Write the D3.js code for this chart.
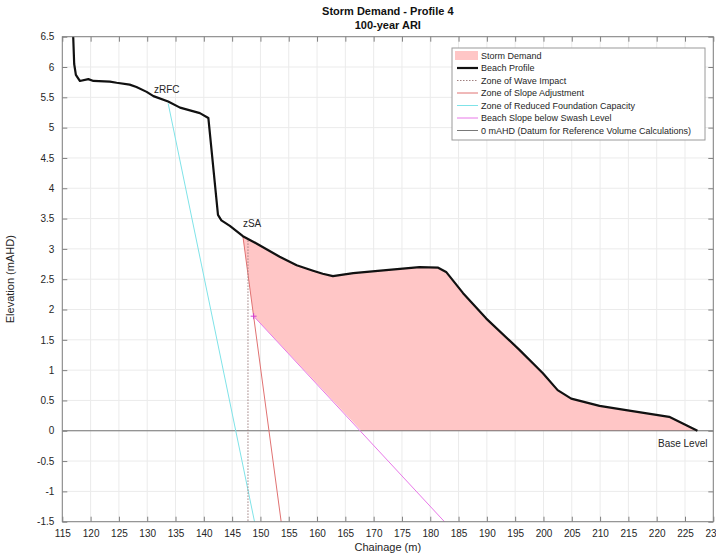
<!DOCTYPE html>
<html>
<head>
<meta charset="utf-8">
<script src="https://cdn.jsdelivr.net/npm/d3@7"></script>
<style>
  body { margin: 0; background: #fff; }
  svg { font-family: "Liberation Sans", Arial, sans-serif; }
</style>
</head>
<body>
<svg id="chart" width="716" height="556"></svg>
<script>
// beach profile (chainage m, elevation mAHD)
var profileChainage = [116.85, 117.1, 117.4, 118.1, 119.6, 120.5, 123.4, 124.6, 126.9, 128.1, 129.9, 131.1, 133.7, 135.8, 139.3, 140.8,
  142.5, 143.1, 144.6, 146.9, 149.3, 153.4, 156.4, 159.3, 161.0, 162.8, 166.4, 172.2, 178.1, 181.4, 182.8, 185.8, 189.9,
  195.8, 199.9, 202.5, 204.9, 209.9, 214.6, 222.2, 227.2];
var profileElevation = [6.7, 6.05, 5.87, 5.77, 5.80, 5.77, 5.76, 5.74, 5.71, 5.67, 5.59, 5.52, 5.43, 5.33, 5.24, 5.16,
  3.56, 3.47, 3.38, 3.21, 3.09, 2.87, 2.73, 2.64, 2.59, 2.55, 2.60, 2.65, 2.70, 2.69, 2.62, 2.27, 1.85,
  1.33, 0.95, 0.67, 0.53, 0.41, 0.34, 0.23, 0.0];

// key points
var zSA = [146.9, 3.21];
var zRFC = [133.7, 5.40];
var swashTop = [148.8, 1.89];
var swashAtDatum = [167.8, 0];
var baseLevel = [227.2, 0];

// zone lines
var waveImpactChainage = [147.8, 147.8];
var waveImpactElevation = [3.14, -1.5];
var slopeAdjChainage = [146.9, 153.95];
var slopeAdjElevation = [3.21, -1.7];
var rfcChainage = [133.7, 149.4];
var rfcElevation = [5.40, -1.7];
var swashChainage = [148.8, 184.5];
var swashElevation = [1.89, -1.7];

var xTicks = d3.range(115, 231, 5);
var yTicks = d3.range(-1.5, 6.51, 0.5);

var legendLabels = ["Storm Demand", "Beach Profile", "Zone of Wave Impact", "Zone of Slope Adjustment",
  "Zone of Reduced Foundation Capacity", "Beach Slope below Swash Level", "0 mAHD (Datum for Reference Volume Calculations)"];

var svg = d3.select("#chart");
var pL = 62.3, pR = 713.3, pT = 36.7, pB = 521.7;

var x = d3.scaleLinear().domain([115, 230]).range([pL, pR]);
var y = d3.scaleLinear().domain([-1.5, 6.5]).range([pB, pT]);

svg.append("defs").append("clipPath").attr("id", "plotclip")
  .append("rect").attr("x", pL).attr("y", pT).attr("width", pR - pL).attr("height", pB - pT);

// grid
var grid = svg.append("g").attr("stroke", "#ebebeb").attr("stroke-width", 1);
grid.selectAll(".gx").data(xTicks).enter().append("line")
  .attr("x1", function(d) { return x(d); }).attr("x2", function(d) { return x(d); })
  .attr("y1", pT).attr("y2", pB);
grid.selectAll(".gy").data(yTicks).enter().append("line")
  .attr("y1", function(d) { return y(d); }).attr("y2", function(d) { return y(d); })
  .attr("x1", pL).attr("x2", pR);

var plot = svg.append("g").attr("clip-path", "url(#plotclip)");

var pts = function(cs, es) { return cs.map(function(c, i) { return [c, es[i]]; }); };
var line = d3.line().x(function(d) { return x(d[0]); }).y(function(d) { return y(d[1]); });

var profile = pts(profileChainage, profileElevation);

// storm demand area
var storm = [zSA].concat(profile.filter(function(p) { return p[0] > zSA[0]; }))
  .concat([baseLevel, swashAtDatum, swashTop]);
plot.append("path").datum(storm)
  .attr("d", function(d) { return line(d) + "Z"; })
  .attr("fill", "#ffc6c6").attr("stroke", "none");

// datum
plot.append("line").attr("x1", x(115)).attr("x2", x(230)).attr("y1", y(0)).attr("y2", y(0))
  .attr("stroke", "#555").attr("stroke-width", 0.8);

plot.append("path").datum(pts(rfcChainage, rfcElevation)).attr("d", line)
  .attr("fill", "none").attr("stroke", "#7fe3e8").attr("stroke-width", 1);
plot.append("path").datum(pts(slopeAdjChainage, slopeAdjElevation)).attr("d", line)
  .attr("fill", "none").attr("stroke", "#e07272").attr("stroke-width", 1);
plot.append("path").datum(pts(swashChainage, swashElevation)).attr("d", line)
  .attr("fill", "none").attr("stroke", "#e878e8").attr("stroke-width", 1);
plot.append("path").datum(pts(waveImpactChainage, waveImpactElevation)).attr("d", line)
  .attr("fill", "none").attr("stroke", "#a08080").attr("stroke-width", 1).attr("stroke-dasharray", "1.5,1.5");

// swash marker
plot.append("path")
  .attr("d", "M-3,0H3M0,-3V3")
  .attr("transform", "translate(" + x(swashTop[0]) + "," + y(swashTop[1]) + ")")
  .attr("stroke", "#d040d0").attr("stroke-width", 1);

plot.append("path").datum(profile).attr("d", line)
  .attr("fill", "none").attr("stroke", "#111").attr("stroke-width", 2.2).attr("stroke-linejoin", "round");

// point labels
var lab = svg.append("g").attr("font-size", "10px").attr("fill", "#262626");
lab.append("text").attr("x", x(131.2)).attr("y", y(5.57)).text("zRFC");
lab.append("text").attr("x", x(146.9)).attr("y", y(3.36)).text("zSA");
lab.append("text").attr("x", x(224.6)).attr("y", y(-0.27)).attr("text-anchor", "middle").text("Base Level");

// axes frame with inward ticks
var axisColor = "#262626";
svg.append("rect").attr("x", pL).attr("y", pT).attr("width", pR - pL).attr("height", pB - pT)
  .attr("fill", "none").attr("stroke", "#808080").attr("stroke-width", 1);

var xb = svg.append("g").attr("transform", "translate(0," + pB + ")")
  .call(d3.axisBottom(x).tickValues(xTicks).tickSizeInner(-5).tickSizeOuter(0).tickPadding(8).tickFormat(function(d) { return String(d); }));
var xt = svg.append("g").attr("transform", "translate(0," + pT + ")")
  .call(d3.axisTop(x).tickValues(xTicks).tickSizeInner(-5).tickSizeOuter(0).tickFormat(""));
var yl = svg.append("g").attr("transform", "translate(" + pL + ",0)")
  .call(d3.axisLeft(y).tickValues(yTicks).tickSizeInner(-5).tickSizeOuter(0).tickPadding(8).tickFormat(function(d) { return String(d); }));
var yr = svg.append("g").attr("transform", "translate(" + pR + ",0)")
  .call(d3.axisRight(y).tickValues(yTicks).tickSizeInner(-5).tickSizeOuter(0).tickFormat(""));
[xb, xt, yl, yr].forEach(function(g) {
  g.select(".domain").remove();
  g.selectAll(".tick line").attr("stroke", "#808080");
  g.selectAll("text").attr("fill", axisColor).attr("font-size", "10px")
    .attr("font-family", "Liberation Sans, Arial, sans-serif");
});

// titles
svg.append("text").attr("x", 387.8).attr("y", 15).attr("text-anchor", "middle")
  .attr("font-size", "11px").attr("font-weight", "bold").attr("fill", "#111").text("Storm Demand - Profile 4");
svg.append("text").attr("x", 387.8).attr("y", 28.5).attr("text-anchor", "middle")
  .attr("font-size", "11px").attr("font-weight", "bold").attr("fill", "#111").text("100-year ARI");
svg.append("text").attr("x", 387.8).attr("y", 551).attr("text-anchor", "middle")
  .attr("font-size", "11px").attr("fill", axisColor).text("Chainage (m)");
svg.append("text").attr("transform", "translate(14," + ((pT + pB) / 2) + ") rotate(-90)")
  .attr("text-anchor", "middle").attr("font-size", "11px").attr("fill", axisColor).text("Elevation (mAHD)");

// legend
var lg = svg.append("g");
lg.append("rect").attr("x", 452).attr("y", 48).attr("width", 253).attr("height", 92)
  .attr("fill", "#fff").attr("stroke", "#9a9a9a").attr("stroke-width", 1);
var legendStyles = [
  { type: "patch", color: "#ffc6c6" },
  { type: "line", color: "#111", width: 2.2 },
  { type: "line", color: "#a08080", width: 1, dash: "1.5,1.5" },
  { type: "line", color: "#e07272", width: 1 },
  { type: "line", color: "#7fe3e8", width: 1 },
  { type: "line", color: "#e878e8", width: 1 },
  { type: "line", color: "#555", width: 0.8 }
];
legendLabels.forEach(function(t, i) {
  var cy = 55.5 + i * 12.5;
  var s = legendStyles[i];
  if (s.type === "patch") {
    lg.append("rect").attr("x", 455).attr("y", cy - 4.5).attr("width", 23).attr("height", 9).attr("fill", s.color);
  } else {
    lg.append("line").attr("x1", 457).attr("x2", 478).attr("y1", cy).attr("y2", cy)
      .attr("stroke", s.color).attr("stroke-width", s.width).attr("stroke-dasharray", s.dash || null);
  }
  lg.append("text").attr("x", 481).attr("y", cy + 3.2).attr("font-size", "9px").attr("fill", axisColor).text(t);
});
</script>
</body>
</html>
